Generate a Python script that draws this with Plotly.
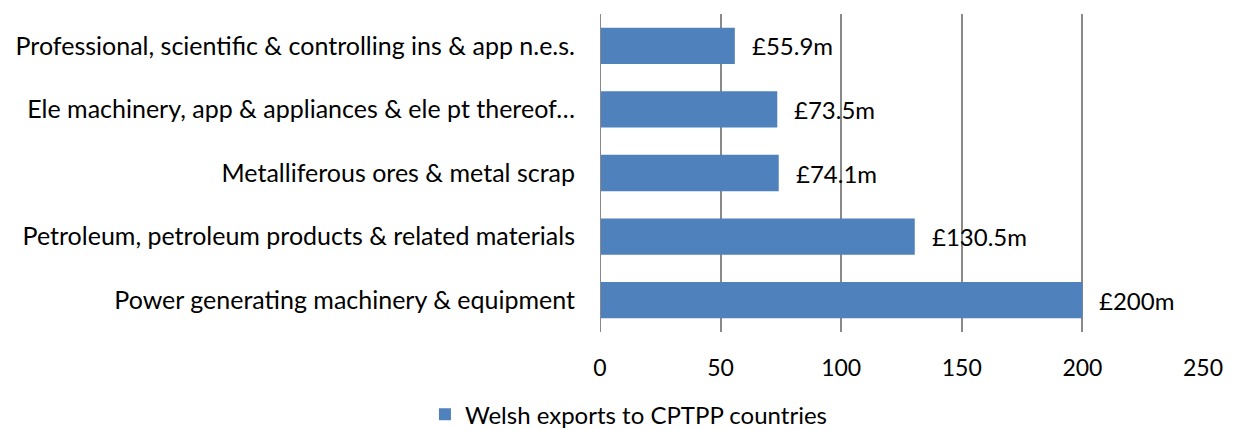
import plotly.graph_objects as go

categories = [
    "Power generating machinery & equipment",
    "Petroleum, petroleum products & related materials",
    "Metalliferous ores & metal scrap",
    "Ele machinery, app & appliances & ele pt thereof…",
    "Professional, scientific & controlling ins & app n.e.s.",
]
values = [200, 130.5, 74.1, 73.5, 55.9]
value_labels = ["£200m", "£130.5m", "£74.1m", "£73.5m", "£55.9m"]
tick_vals = [0, 50, 100, 150, 200, 250]
series_name = "Welsh exports to CPTPP countries"

FONT = "Lato"
FS = 24
BAR = "#4F81BD"
GRID = "#898989"

fig = go.Figure()
fig.add_trace(go.Bar(
    x=values, y=categories, orientation="h",
    marker=dict(color=BAR, line=dict(width=0)),
    name=series_name, showlegend=True,
))

for v, c, t in zip(values, categories, value_labels):
    fig.add_annotation(x=v, y=c, text=t, showarrow=False, xanchor="left",
                       yanchor="middle", xshift=15, yshift=0,
                       font=dict(family=FONT, size=FS, color="#000000"))

# page body has an 8px margin, so the figure is 8px smaller and offset
fig.update_layout(
    width=1228, height=422,
    margin=dict(l=592, r=33, t=6, b=98, autoexpand=False),
    paper_bgcolor="white", plot_bgcolor="white",
    font=dict(family=FONT, size=FS, color="#000000"),
    bargap=0.43,
    showlegend=True,
    legend=dict(orientation="h", x=0.048, xanchor="center", y=-0.26, yanchor="middle",
                font=dict(family=FONT, size=FS), itemwidth=30),
    xaxis=dict(range=[0, 250], tickvals=tick_vals, showgrid=True, gridcolor=GRID,
               gridwidth=2, zeroline=False, showline=False, ticks="",
               ticklabelstandoff=20, tickfont=dict(family=FONT, size=23)),
    yaxis=dict(categoryorder="array", categoryarray=categories, showgrid=False,
               zeroline=False, showline=False, ticks="", ticklabelstandoff=24,
               tickfont=dict(family=FONT, size=25)),
)
fig.add_shape(type="line", xref="x", yref="paper", x0=0, x1=0, y0=0, y1=1,
              line=dict(color=GRID, width=2))

fig.write_html("out.html")
